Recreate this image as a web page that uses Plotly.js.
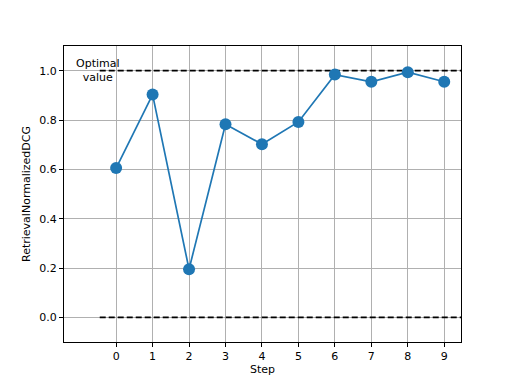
<!DOCTYPE html>
<html><head><meta charset="utf-8">
<script src="https://cdn.plot.ly/plotly-3.0.1.min.js"></script>
<style>html,body{margin:0;padding:0;background:#fff;}#c{width:512px;height:384px;}</style>
</head><body><div id="c"></div>
<script>
const steps = [0,1,2,3,4,5,6,7,8,9];
const ndcg = [0.605,0.903,0.195,0.783,0.702,0.792,0.984,0.955,0.994,0.955];
const refX = [-0.45, 9.6];
const optimalY = [1.0, 1.0];
const zeroY = [0.0, 0.0];
const font = {family:'DejaVu Sans', size:11, color:'#000'};
const data = [
  {x:refX, y:optimalY, mode:'lines', line:{color:'#000', width:1.6, dash:'6px,3px'}, hoverinfo:'skip'},
  {x:refX, y:zeroY, mode:'lines', line:{color:'#000', width:1.6, dash:'6px,3px'}, hoverinfo:'skip'},
  {x:steps, y:ndcg, mode:'lines+markers', line:{color:'#1f77b4', width:1.7}, marker:{color:'#1f77b4', size:12}}
];
const layout = {
  width:512, height:384, showlegend:false,
  paper_bgcolor:'#fff', plot_bgcolor:'#fff',
  margin:{l:64, r:51, t:46, b:42},
  font:font,
  xaxis:{range:[-1.43,9.46], tickvals:steps, ticktext:steps.map(String), showgrid:true, gridcolor:'#b0b0b0', gridwidth:1,
    zeroline:false, showline:true, mirror:true, linecolor:'#000', linewidth:1, ticks:'outside', ticklen:4, tickcolor:'#000',
    title:{text:'Step', font:font, standoff:1}},
  yaxis:{range:[-0.1,1.1], tickvals:[0,0.2,0.4,0.6,0.8,1.0], ticktext:['0.0','0.2','0.4','0.6','0.8','1.0'], showgrid:true, gridcolor:'#b0b0b0', gridwidth:1,
    zeroline:false, showline:true, mirror:true, linecolor:'#000', linewidth:1, ticks:'outside', ticklen:4, tickcolor:'#000',
    title:{text:'RetrievalNormalizedDCG', font:font, standoff:6}},
  annotations:[{x:-0.5, y:1.0, xref:'x', yref:'y', text:'Optimal<br>value', showarrow:false, align:'center', font:font, xanchor:'center', yanchor:'middle'}]
};
Plotly.newPlot('c', data, layout, {displayModeBar:false, staticPlot:true});
</script></body></html>
